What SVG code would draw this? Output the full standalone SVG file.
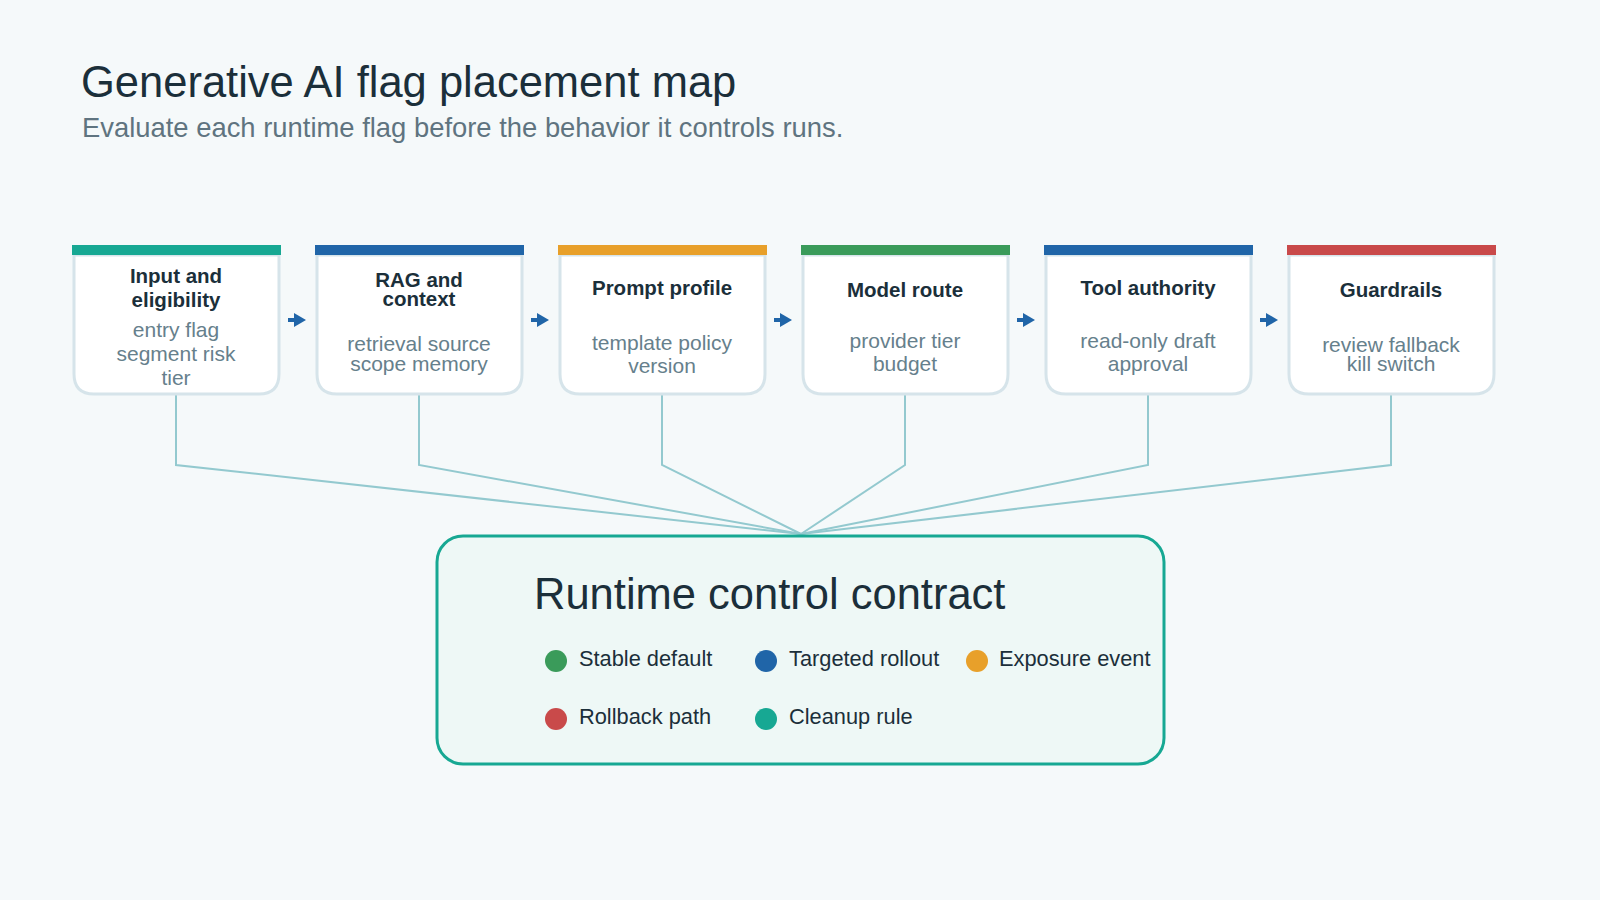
<svg xmlns="http://www.w3.org/2000/svg" width="1600" height="900" viewBox="0 0 1600 900">
<style>
text{font-family:"Liberation Sans",Arial,sans-serif}
.t{font-size:20.5px;font-weight:bold;fill:#1b2f3a;text-anchor:middle}
.d{font-size:21px;fill:#66808c;text-anchor:middle}
.box{fill:#fff;stroke:#d6e4ea;stroke-width:3}
.lg{font-size:21.8px;fill:#1b2f3a}
.c{fill:none;stroke:#93c9cf;stroke-width:2}
</style>
<defs>
<marker id="ah" markerWidth="12" markerHeight="14" refX="6" refY="7" orient="auto" markerUnits="userSpaceOnUse"><path d="M0,0 L12,7 L0,14 Z" fill="#2065a8"/></marker>
</defs>
<rect width="1600" height="900" fill="#f5f9fa"/>
<text x="81" y="97" font-size="43.5" fill="#1b2f3a">Generative AI flag placement map</text>
<text x="82" y="137" font-size="27.4" fill="#5f7480">Evaluate each runtime flag before the behavior it controls runs.</text>
<g id="connectors">
<polyline class="c" points="176,394 176,465 801,534"/>
<polyline class="c" points="419,394 419,465 801,534"/>
<polyline class="c" points="662,394 662,465 801,534"/>
<polyline class="c" points="905,394 905,465 801,534"/>
<polyline class="c" points="1148,394 1148,465 801,534"/>
<polyline class="c" points="1391,394 1391,465 801,534"/>
<g stroke="#2065a8" stroke-width="4" marker-end="url(#ah)">
<line x1="288" y1="320" x2="300" y2="320"/>
<line x1="531" y1="320" x2="543" y2="320"/>
<line x1="774" y1="320" x2="786" y2="320"/>
<line x1="1017" y1="320" x2="1029" y2="320"/>
<line x1="1260" y1="320" x2="1272" y2="320"/>
</g>
</g>
<g id="n1"><path class="box" d="M74,255 H279 V374 Q279,394 259,394 H94 Q74,394 74,374 Z"/><rect x="72" y="245" width="209" height="10" fill="#17a893"/>
<text class="t" x="176" y="283">Input and</text><text class="t" x="176" y="307">eligibility</text>
<text class="d" x="176" y="337">entry flag</text><text class="d" x="176" y="361">segment risk</text><text class="d" x="176" y="385">tier</text></g>
<g id="n2"><path class="box" d="M317,255 H522 V374 Q522,394 502,394 H337 Q317,394 317,374 Z"/><rect x="315" y="245" width="209" height="10" fill="#2065a8"/>
<text class="t" x="419" y="287">RAG and</text><text class="t" x="419" y="306">context</text>
<text class="d" x="419" y="351">retrieval source</text><text class="d" x="419" y="371">scope memory</text></g>
<g id="n3"><path class="box" d="M560,255 H765 V374 Q765,394 745,394 H580 Q560,394 560,374 Z"/><rect x="558" y="245" width="209" height="10" fill="#e8a02a"/>
<text class="t" x="662" y="295">Prompt profile</text>
<text class="d" x="662" y="350">template policy</text><text class="d" x="662" y="373">version</text></g>
<g id="n4"><path class="box" d="M803,255 H1008 V374 Q1008,394 988,394 H823 Q803,394 803,374 Z"/><rect x="801" y="245" width="209" height="10" fill="#3a9b5a"/>
<text class="t" x="905" y="297">Model route</text>
<text class="d" x="905" y="348">provider tier</text><text class="d" x="905" y="371">budget</text></g>
<g id="n5"><path class="box" d="M1046,255 H1251 V374 Q1251,394 1231,394 H1066 Q1046,394 1046,374 Z"/><rect x="1044" y="245" width="209" height="10" fill="#2065a8"/>
<text class="t" x="1148" y="295">Tool authority</text>
<text class="d" x="1148" y="348">read-only draft</text><text class="d" x="1148" y="371">approval</text></g>
<g id="n6"><path class="box" d="M1289,255 H1494 V374 Q1494,394 1474,394 H1309 Q1289,394 1289,374 Z"/><rect x="1287" y="245" width="209" height="10" fill="#c94a4a"/>
<text class="t" x="1391" y="297">Guardrails</text>
<text class="d" x="1391" y="352">review fallback</text><text class="d" x="1391" y="371">kill switch</text></g>
<g id="contract">
<rect x="437" y="536" width="727" height="228" rx="26" fill="#eef8f6" stroke="#17a893" stroke-width="3"/>
<text x="534" y="609" font-size="43.5" fill="#1b2f3a">Runtime control contract</text>
<circle cx="556" cy="661" r="11" fill="#3a9b5a"/><text class="lg" x="579" y="666">Stable default</text>
<circle cx="766" cy="661" r="11" fill="#2065a8"/><text class="lg" x="789" y="666">Targeted rollout</text>
<circle cx="977" cy="661" r="11" fill="#e8a02a"/><text class="lg" x="999" y="666">Exposure event</text>
<circle cx="556" cy="719" r="11" fill="#c94a4a"/><text class="lg" x="579" y="724">Rollback path</text>
<circle cx="766" cy="719" r="11" fill="#17a893"/><text class="lg" x="789" y="724">Cleanup rule</text>
</g>
</svg>
